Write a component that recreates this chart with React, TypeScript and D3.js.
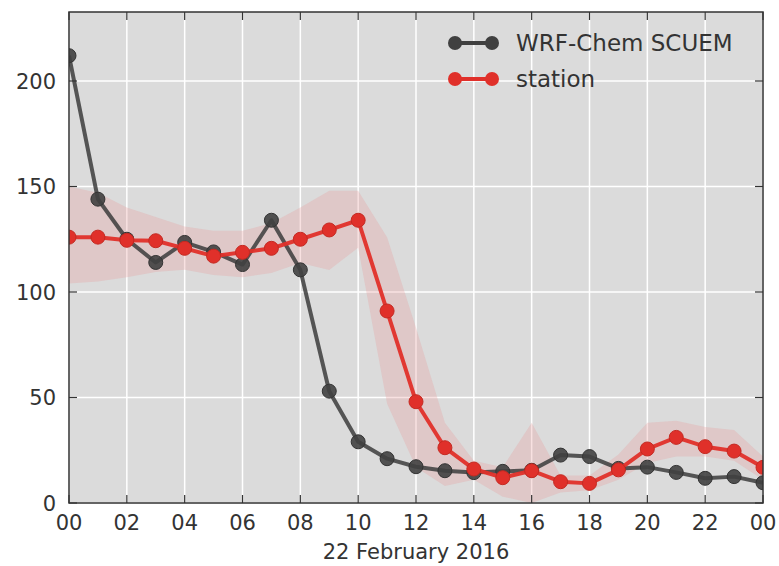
import React from "react";
import * as d3 from "d3";

const hours = d3.range(0, 25);
const wrfValues = [212, 144, 125, 114, 123.5, 119, 113, 134, 110.5, 53, 29, 21, 17.2, 15.3, 14.4, 15, 15.5, 22.7, 22, 16.4, 17, 14.5, 11.7, 12.5, 9.6];
const stationValues = [126, 126, 124.5, 124.3, 120.7, 117, 118.8, 120.7, 125, 129.4, 134, 91, 48, 26.2, 16.1, 12, 15.3, 10.1, 9.3, 15.7, 25.6, 31.1, 26.7, 24.6, 16.9];
const stationUpper = [150, 147, 140, 135.5, 131, 129, 129, 132.7, 140, 148, 148, 126, 83, 38, 20, 17, 38, 13, 13, 23, 38, 39, 36, 34.6, 22];
const stationLower = [104, 105, 107, 109.5, 110.5, 108, 107, 109, 113.7, 110.4, 121, 47, 17, 8, 11, 3, 0, 5, 6, 11, 19, 22, 22, 20, 11];
const xTicks = [0, 2, 4, 6, 8, 10, 12, 14, 16, 18, 20, 22, 24];
const yTicks = [0, 50, 100, 150, 200];
const seriesNames = ["WRF-Chem SCUEM", "station"];
const xLabel = "22 February 2016";

const W = 779, H = 566;
const L = 69, R = 763, T = 12, B = 503;

export default function App() {
  const x = d3.scaleLinear().domain([0, 24]).range([L, R]);
  const y = d3.scaleLinear().domain([0, 232.7]).range([B, T]);
  const font = "'DejaVu Sans', sans-serif";

  const area = d3.area<number>()
    .x((_, i) => x(hours[i]))
    .y0((_, i) => y(stationLower[i]))
    .y1((_, i) => y(stationUpper[i]))
    .curve(d3.curveLinear);
  const line = d3.line<number>().x((_, i) => x(hours[i])).y((d) => y(d));

  const fmt = (h: number) => String(h % 24).padStart(2, "0");
  const tickLen = 8;
  const txt = "#333";

  return (
    <svg width={W} height={H} style={{ position: "absolute", left: 0, top: 0, background: "#fff" }}>
      <defs>
        <clipPath id="plot"><rect x={L} y={T} width={R - L} height={B - T} /></clipPath>
      </defs>
      <rect x={L} y={T} width={R - L} height={B - T} fill="#dbdbdb" />
      {xTicks.map((t) => (
        <line key={"gx" + t} x1={x(t)} x2={x(t)} y1={T} y2={B} stroke="#fff" strokeWidth={1.5} />
      ))}
      {yTicks.map((t) => (
        <line key={"gy" + t} x1={L} x2={R} y1={y(t)} y2={y(t)} stroke="#fff" strokeWidth={1.5} />
      ))}
      <g clipPath="url(#plot)">
        <path d={area(hours) || ""} fill="#e89a9a" fillOpacity={0.3} />
        <path d={line(wrfValues) || ""} fill="none" stroke="#3c3c3c" strokeOpacity={0.85} strokeWidth={4} strokeLinejoin="round" />
        {wrfValues.map((v, i) => (
          <circle key={"w" + i} cx={x(hours[i])} cy={y(v)} r={7} fill="#404040" fillOpacity={0.9} stroke="#333" strokeWidth={1} />
        ))}
        <path d={line(stationValues) || ""} fill="none" stroke="#e0302a" strokeOpacity={0.95} strokeWidth={4} strokeLinejoin="round" />
        {stationValues.map((v, i) => (
          <circle key={"s" + i} cx={x(hours[i])} cy={y(v)} r={7} fill="#e0302a" stroke="#c42a22" strokeWidth={1} />
        ))}
      </g>
      {xTicks.map((t) => (
        <g key={"tx" + t}>
          <line x1={x(t)} x2={x(t)} y1={B} y2={B - tickLen} stroke={txt} strokeWidth={1.2} />
          <line x1={x(t)} x2={x(t)} y1={T} y2={T + tickLen} stroke={txt} strokeWidth={1.2} />
          <text x={x(t)} y={B + 27} textAnchor="middle" fontFamily={font} fontSize={21} fill={txt}>{fmt(t)}</text>
        </g>
      ))}
      {yTicks.map((t) => (
        <g key={"ty" + t}>
          <line x1={L} x2={L + tickLen} y1={y(t)} y2={y(t)} stroke={txt} strokeWidth={1.2} />
          <line x1={R} x2={R - tickLen} y1={y(t)} y2={y(t)} stroke={txt} strokeWidth={1.2} />
          <text x={L - 13} y={y(t)} dy="0.36em" textAnchor="end" fontFamily={font} fontSize={21} fill={txt}>{t}</text>
        </g>
      ))}
      <rect x={L} y={T} width={R - L} height={B - T} fill="none" stroke="#333" strokeWidth={1.5} />
      <text x={(L + R) / 2} y={559} textAnchor="middle" fontFamily={font} fontSize={21} fill={txt}>{xLabel}</text>
      {seriesNames.map((name, i) => {
        const ly = 43 + i * 36;
        const col = i === 0 ? "#404040" : "#e0302a";
        return (
          <g key={name}>
            <line x1={455} x2={492} y1={ly} y2={ly} stroke={col} strokeWidth={4} />
            <circle cx={455} cy={ly} r={7} fill={col} />
            <circle cx={492} cy={ly} r={7} fill={col} />
            <text x={516} y={ly} dy="0.36em" fontFamily={font} fontSize={23} fill={txt}>{name}</text>
          </g>
        );
      })}
    </svg>
  );
}
